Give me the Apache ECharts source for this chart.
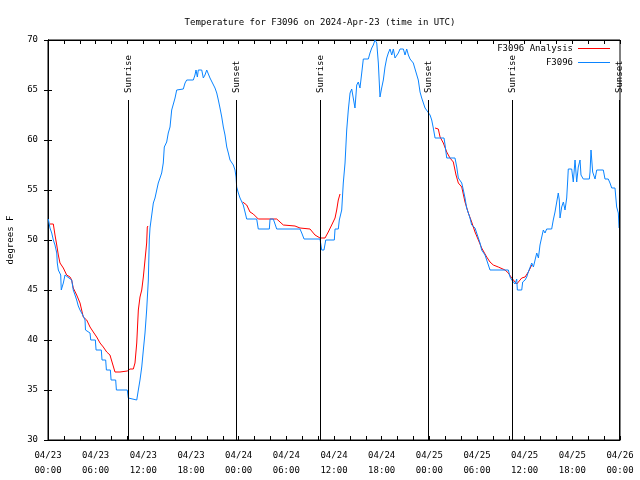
<!DOCTYPE html>
<html>
<head>
<meta charset="utf-8">
<script src="https://cdn.jsdelivr.net/npm/echarts@6/dist/echarts.min.js"></script>
<style>html,body{margin:0;padding:0;background:#fff}#c{width:640px;height:480px}</style>
</head>
<body>
<div id="c"></div>
<script>
// ---- data (hours since 04/23 00:00 UTC) ----
const titleText = 'Temperature for F3096 on 2024-Apr-23 (time in UTC)';
const yAxisTitle = 'degrees F';
const xTickLabels = ['04/23\n00:00','04/23\n06:00','04/23\n12:00','04/23\n18:00','04/24\n00:00','04/24\n06:00','04/24\n12:00','04/24\n18:00','04/25\n00:00','04/25\n06:00','04/25\n12:00','04/25\n18:00','04/26\n00:00'];
const yTicks = [30, 35, 40, 45, 50, 55, 60, 65, 70];

const analysisName = 'F3096 Analysis';
const analysisHours = [0.25,0.67,0.88,1.1,1.3,1.51,1.72,1.93,2.35,2.77,2.98,3.18,3.61,4.03,4.44,4.87,5.29,5.7,6.13,6.55,6.96,7.39,7.8,8.43,9.06,9.98,10.32,10.74,10.95,11.17,11.37,11.58,11.8,12.0,12.21,12.42,12.5,12.59,
  18.0,
  24.51,25.01,25.43,25.84,26.47,28.79,29.62,31.09,31.72,32.98,33.61,33.82,34.24,34.87,35.28,35.71,36.13,36.34,36.54,36.76,
  42.0,
  48.72,49.13,49.35,49.76,50.19,50.6,51.02,51.36,51.65,52.08,52.49,52.91,53.33,53.75,54.17,54.59,55.22,55.64,56.05,56.68,57.53,57.94,58.37,59.0,59.63,60.05,60.46,60.89];
const analysisTemps = [51.6,51.6,50.5,49.5,48.5,47.7,47.7,47.2,46.5,46.3,46.0,45.2,44.5,43.7,42.3,42.0,41.3,40.8,40.3,39.7,39.3,38.8,38.5,36.8,36.8,36.9,37.1,37.1,37.7,39.7,43.0,44.3,45.0,46.3,48.0,49.7,51.3,51.4,
  null,
  53.8,53.5,52.8,52.6,52.1,52.1,51.5,51.4,51.2,51.1,50.5,50.3,50.2,50.2,50.8,51.5,52.2,53.0,54.0,54.6,
  null,
  61.2,61.1,60.3,59.7,58.8,58.2,57.8,56.5,55.7,55.3,53.8,52.7,51.8,50.8,50.0,49.2,48.3,47.8,47.5,47.3,47.0,46.7,46.2,45.6,46.2,46.3,46.8,47.5];

const obsName = 'F3096';
const obsHours = [0.04,0.25,0.47,0.67,0.88,1.1,1.17,1.3,1.6,1.67,1.93,2.14,2.35,2.98,3.18,3.4,3.61,3.81,4.03,4.37,4.66,4.72,5.29,5.38,5.96,6.05,6.71,6.80,7.26,7.35,7.85,7.94,8.52,8.61,9.98,10.11,11.17,11.37,11.58,11.8,12.0,12.21,12.42,12.63,12.75,12.84,13.26,13.47,13.88,14.1,14.31,14.51,14.64,14.94,15.14,15.36,15.57,15.77,15.99,16.2,17.03,17.25,17.46,18.29,18.5,18.63,18.8,18.92,19.35,19.55,19.76,19.98,20.18,20.39,20.61,21.02,21.24,21.44,21.65,21.87,22.07,22.28,22.5,22.7,22.91,23.33,23.54,23.67,23.75,23.96,24.17,24.38,24.58,24.8,25.01,26.27,26.47,27.86,27.95,28.36,28.79,31.72,31.94,32.23,34.24,34.45,34.74,34.96,36.04,36.13,36.54,36.67,36.97,37.17,37.39,37.6,37.8,38.02,38.23,38.43,38.64,38.86,39.06,39.27,39.49,39.69,40.32,40.53,40.75,40.95,41.16,41.38,41.58,41.79,42.0,42.21,42.42,42.64,42.84,43.05,43.27,43.47,43.68,43.9,44.1,44.31,44.73,44.94,45.15,45.36,45.57,45.98,46.2,46.61,46.83,47.04,47.25,47.46,47.67,48.09,48.3,48.5,48.72,49.85,49.98,50.19,51.23,51.45,51.65,52.08,52.28,52.49,52.7,53.12,53.33,53.75,53.96,54.17,54.38,54.59,55.01,55.22,55.64,57.94,58.16,58.37,58.79,59.0,59.08,59.63,59.75,60.05,60.26,60.46,60.67,60.89,61.1,61.31,61.52,61.73,61.93,62.15,62.35,62.56,62.77,63.4,63.6,63.82,64.03,64.23,64.36,64.45,64.66,64.87,65.08,65.29,65.42,65.49,65.92,66.12,66.34,66.55,66.75,66.97,67.09,67.38,68.14,68.23,68.35,68.56,68.86,69.07,69.9,70.11,70.52,70.74,70.96,71.37,71.58,71.79,71.88];
const obsTemps = [52.1,51.2,50.7,50.0,49.5,48.7,47.7,47.0,46.5,45.0,45.7,46.5,46.3,46.0,45.0,44.5,44.0,43.4,43.0,42.5,42.0,41.0,40.7,40.0,40.0,39.0,39.0,38.0,38.0,37.0,37.0,36.0,36.0,35.0,35.0,34.2,34.0,35.0,36.0,37.3,39.0,40.7,43.0,46.0,50.0,51.2,53.7,54.2,55.7,56.2,56.7,57.7,59.3,59.8,60.7,61.3,63.0,63.2,64.2,65.0,65.1,65.7,66.0,66.0,66.5,67.0,66.3,67.0,67.0,66.2,66.5,67.0,67.0,66.2,66.0,65.2,64.7,64.0,63.2,62.3,61.3,60.5,59.3,58.7,58.0,57.5,57.0,56.3,55.3,54.7,54.2,54.0,53.5,52.8,52.1,52.1,51.1,51.1,52.1,52.1,51.1,51.1,50.7,50.1,50.1,49.0,49.0,50.0,50.0,51.1,51.1,52.0,53.0,55.7,57.7,61.0,63.0,64.7,65.1,65.1,63.2,65.5,65.8,65.2,66.7,68.1,68.1,68.7,69.2,69.5,70.0,69.7,67.7,64.3,65.2,66.0,67.3,68.2,68.7,69.1,68.5,69.1,68.2,68.1,68.7,69.1,69.1,68.5,69.1,68.5,68.1,67.7,67.1,66.0,64.8,64.2,63.7,63.2,63.0,62.5,62.0,61.2,60.2,60.2,59.5,58.2,58.2,57.3,56.2,55.7,55.0,54.2,53.2,52.2,51.5,51.2,50.7,50.2,49.7,49.0,48.5,48.0,47.0,47.0,46.3,46.0,45.6,46.1,45.0,45.0,45.8,46.0,46.3,46.8,46.8,47.7,47.3,48.0,48.7,48.2,49.5,50.3,51.0,50.7,51.1,51.1,52.0,52.8,53.0,54.7,54.0,52.2,53.3,53.8,53.0,54.2,56.0,57.1,57.1,55.8,58.0,55.8,57.3,58.0,56.5,56.1,56.1,56.8,59.0,56.8,56.1,57.0,57.0,56.1,56.1,55.7,55.2,55.2,53.3,52.7,51.2];

const eventHours = [10.07, 23.67, 34.24, 47.83, 58.41, 72.0];
const eventLabels = ['Sunrise', 'Sunset', 'Sunrise', 'Sunset', 'Sunrise', 'Sunset'];
const eventLineTop = 64;

// ---- chart ----
const FONT = '"DejaVu Sans Mono", "Liberation Mono", monospace';
const chart = echarts.init(document.getElementById('c'), null, {renderer: 'canvas'});
const xMin = 0, xMax = 72, yMin = yTicks[0], yMax = yTicks[yTicks.length - 1];

const pairs = (xs, ys) => xs.map((x, i) => [x, ys[i] === null ? '-' : ys[i]]);
const crisp = v => Math.round(v) + 0.5;

const baseX = {
  type: 'value', min: xMin, max: xMax, interval: 6,
  axisLine: {show: true, lineStyle: {color: '#000', width: 1}},
  axisTick: {show: true, inside: true, length: 4, lineStyle: {color: '#000'}},
  minorTick: {show: true, splitNumber: 3, length: 4, lineStyle: {color: '#000'}},
  splitLine: {show: false}, minorSplitLine: {show: false}
};
const baseY = {
  type: 'value', min: yMin, max: yMax, interval: 5,
  axisLine: {show: true, lineStyle: {color: '#000', width: 1}},
  axisTick: {show: true, inside: true, length: 4, lineStyle: {color: '#000'}},
  splitLine: {show: false}
};

chart.setOption({
  animation: false,
  backgroundColor: '#fff',
  title: {
    text: titleText, left: 'center', top: 13,
    textStyle: {fontFamily: FONT, fontSize: 9, fontWeight: 'normal', color: '#000'}
  },
  legend: {
    orient: 'vertical', right: 25, top: 39, align: 'right',
    icon: 'rect', itemWidth: 32, itemHeight: 1, itemGap: 5,
    textStyle: {fontFamily: FONT, fontSize: 9, color: '#000', lineHeight: 9},
    data: [analysisName, obsName]
  },
  grid: {left: 48, right: 20, top: 40, bottom: 40, containLabel: false, outerBoundsMode: 'none',
         show: true, borderColor: '#000', borderWidth: 1, backgroundColor: 'transparent'},
  xAxis: [
    Object.assign({}, baseX, {
      position: 'bottom',
      axisLabel: {
        fontFamily: FONT, fontSize: 9, color: '#000', margin: 8, lineHeight: 15,
        formatter: v => xTickLabels[Math.round(v / 6)] || ''
      }
    }),
    Object.assign({}, baseX, {position: 'top', axisLabel: {show: false}})
  ],
  yAxis: [
    Object.assign({}, baseY, {
      position: 'left',
      name: yAxisTitle, nameLocation: 'middle', nameGap: 33, nameRotate: 90,
      nameTextStyle: {fontFamily: FONT, fontSize: 9, color: '#000'},
      axisLabel: {fontFamily: FONT, fontSize: 9, color: '#000', margin: 10}
    }),
    Object.assign({}, baseY, {position: 'right', axisLabel: {show: false}})
  ],
  series: [
    {
      name: analysisName, type: 'line', xAxisIndex: 0, yAxisIndex: 0,
      data: pairs(analysisHours, analysisTemps),
      symbol: 'none', connectNulls: false,
      lineStyle: {color: '#ff0000', width: 1}, itemStyle: {color: '#ff0000'},
      z: 2
    },
    {
      name: obsName, type: 'line', xAxisIndex: 0, yAxisIndex: 0,
      data: pairs(obsHours, obsTemps),
      symbol: 'none',
      lineStyle: {color: '#0a84ff', width: 1}, itemStyle: {color: '#0a84ff'},
      z: 3
    },
    {
      name: 'events', type: 'custom', xAxisIndex: 0, yAxisIndex: 0,
      data: eventHours.map((h, i) => [h, i]),
      encode: {x: 0},
      clip: false, silent: true, z: 4,
      renderItem: (params, api) => {
        const h = api.value(0);
        const idx = api.value(1);
        const top = api.coord([h, eventLineTop]);
        const bot = api.coord([h, yMin]);
        const lx = crisp(Math.min(top[0], 619));
        return {
          type: 'group',
          children: [
            {type: 'line', shape: {x1: lx, y1: top[1], x2: lx, y2: bot[1]},
             style: {stroke: '#000', lineWidth: 1}},
            {type: 'text', x: lx, y: top[1] - 7, rotation: Math.PI / 2,
             style: {text: eventLabels[idx], fill: '#000', font: '9px ' + FONT, align: 'left', verticalAlign: 'middle'}}
          ]
        };
      }
    }
  ]
});
</script>
</body>
</html>
